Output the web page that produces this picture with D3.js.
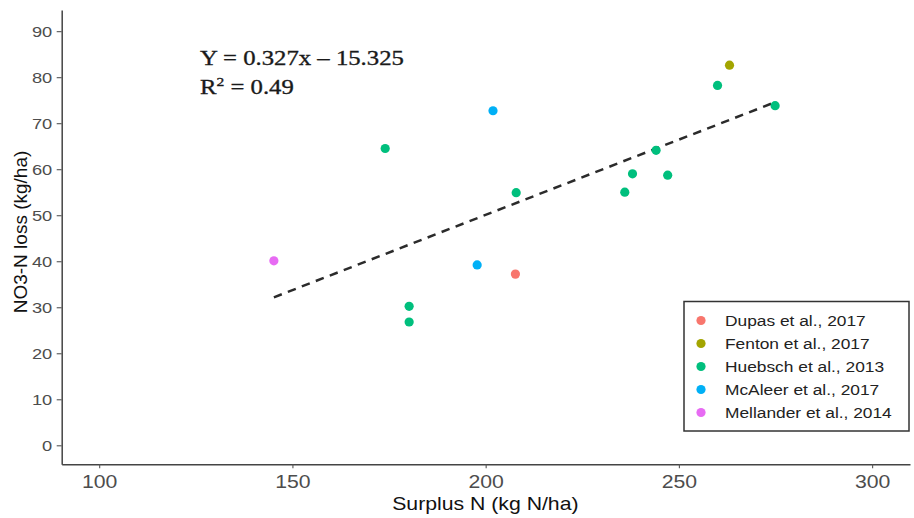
<!DOCTYPE html>
<html>
<head>
<meta charset="utf-8">
<script src="https://cdn.jsdelivr.net/npm/d3@7"></script>
<style>
	body { margin: 0; background: #fff; }
	svg { display: block; }
</style>
</head>
<body>
<svg id="chart" width="914" height="518"></svg>
<script>
// studies, in legend order
var studies = ["Dupas et al., 2017", "Fenton et al., 2017", "Huebsch et al., 2013", "McAleer et al., 2017", "Mellander et al., 2014"];
var studyColors = ["#F8766D", "#A3A500", "#00BF7D", "#00B0F6", "#E76BF3"];

// points: surplus N, NO3-N loss, study index
var surplusN = [207.7, 263.1, 174.0, 207.9, 180.2, 180.2, 236.0, 238.0, 244.1, 247.1, 260.0, 274.9, 201.9, 197.8, 145.2];
var no3Loss  = [37.2, 82.6, 64.5, 54.9, 30.2, 26.8, 55.0, 59.0, 64.1, 58.7, 78.2, 73.8, 72.7, 39.2, 40.1];
var studyIdx = [0, 1, 2, 2, 2, 2, 2, 2, 2, 2, 2, 2, 3, 3, 4];

var xTicks = [100, 150, 200, 250, 300];
var yTicks = [0, 10, 20, 30, 40, 50, 60, 70, 80, 90];

// fitted line Y = 0.327x - 15.325
var fitSlope = 0.327;
var fitIntercept = -15.325;
var fitLabel = "Y = 0.327x \u2013 15.325";
var r2Value = "0.49";

var svg = d3.select("#chart");

var x = d3.scaleLinear().domain([90.3, 309.8]).range([61.7, 910]);
var y = d3.scaleLinear().domain([-4.13, 94.6]).range([464.3, 10]);

var axisColor = "#4d4d4d";
var sansFont = "Liberation Sans, Arial, sans-serif";
// the picture is a bit wider than tall, text looks stretched sideways
var stretch = 1.18;

// x axis
var gx = svg.append("g")
	.attr("transform", "translate(0," + y.range()[0] + ")")
	.call(d3.axisBottom(x).tickValues(xTicks).tickSize(4).tickPadding(7).tickSizeOuter(0));
// y axis
var gy = svg.append("g")
	.attr("transform", "translate(" + x.range()[0] + ",0)")
	.call(d3.axisLeft(y).tickValues(yTicks).tickSize(5).tickPadding(3).tickSizeOuter(0));

[gx, gy].forEach(function (g) {
	g.select(".domain").attr("stroke", "#444").attr("stroke-width", 1.5);
	g.selectAll(".tick line").attr("stroke", "#555").attr("stroke-width", 1.1);
	g.selectAll(".tick text")
		.attr("fill", axisColor)
		.style("font-family", sansFont)
		.attr("transform", "scale(" + stretch + ",1)");
});
gx.selectAll(".tick text").style("font-size", "18px");
gy.selectAll(".tick text").style("font-size", "15.5px").attr("x", -8);

// axis titles
svg.append("text")
	.attr("transform", "translate(" + ((x.range()[0] + x.range()[1]) / 2 - 0.5) + ",510) scale(" + stretch + ",1)")
	.attr("text-anchor", "middle")
	.style("font-family", sansFont)
	.style("font-size", "18px")
	.attr("fill", "#111")
	.text("Surplus N (kg N/ha)");

svg.append("text")
	.attr("transform", "translate(27,232) rotate(-90)")
	.attr("text-anchor", "middle")
	.style("font-family", sansFont)
	.style("font-size", "19px")
	.attr("fill", "#111")
	.text("NO3-N loss (kg/ha)");

// regression line over the data range
var xr = d3.extent(surplusN);
svg.append("line")
	.attr("x1", x(xr[0])).attr("y1", y(fitSlope * xr[0] + fitIntercept))
	.attr("x2", x(xr[1])).attr("y2", y(fitSlope * xr[1] + fitIntercept))
	.attr("stroke", "#2b2b2b")
	.attr("stroke-width", 2.5)
	.attr("stroke-dasharray", "8.5,6.5");

// points
svg.append("g").selectAll("circle")
	.data(surplusN.map(function (d, i) { return [d, no3Loss[i], studyIdx[i]]; }))
	.enter().append("circle")
	.attr("cx", function (d) { return x(d[0]); })
	.attr("cy", function (d) { return y(d[1]); })
	.attr("r", 4.6)
	.attr("fill", function (d) { return studyColors[d[2]]; });

// equation
var eq = svg.append("g")
	.attr("transform", "translate(200,0) scale(1.15,1)")
	.style("font-family", "Liberation Serif, DejaVu Serif, serif")
	.style("font-size", "21.5px")
	.attr("fill", "#1a1a1a")
	.attr("stroke", "#1a1a1a")
	.attr("stroke-width", 0.35);
eq.append("text").attr("x", 0).attr("y", 65.5).text(fitLabel);
var r2 = eq.append("text").attr("x", 0).attr("y", 94);
r2.append("tspan").text("R");
r2.append("tspan").attr("dy", -8).style("font-size", "13.5px").text("2");
r2.append("tspan").attr("dy", 8).text(" = " + r2Value);

// legend
var legend = svg.append("g").attr("transform", "translate(684,301.5)");
legend.append("rect")
	.attr("width", 225).attr("height", 129.5)
	.attr("fill", "#fff")
	.attr("stroke", "#333")
	.attr("stroke-width", 1.5);
var items = legend.selectAll("g.item")
	.data(studies)
	.enter().append("g")
	.attr("class", "item")
	.attr("transform", function (d, i) { return "translate(0," + (19 + i * 23) + ")"; });
items.append("circle")
	.attr("cx", 17).attr("r", 4.6)
	.attr("fill", function (d, i) { return studyColors[i]; });
items.append("text")
	.attr("transform", "translate(41,0) scale(1.12,1)")
	.attr("dy", "0.36em")
	.style("font-family", sansFont)
	.style("font-size", "15.5px")
	.attr("fill", "#222")
	.text(function (d) { return d; });
</script>
</body>
</html>
